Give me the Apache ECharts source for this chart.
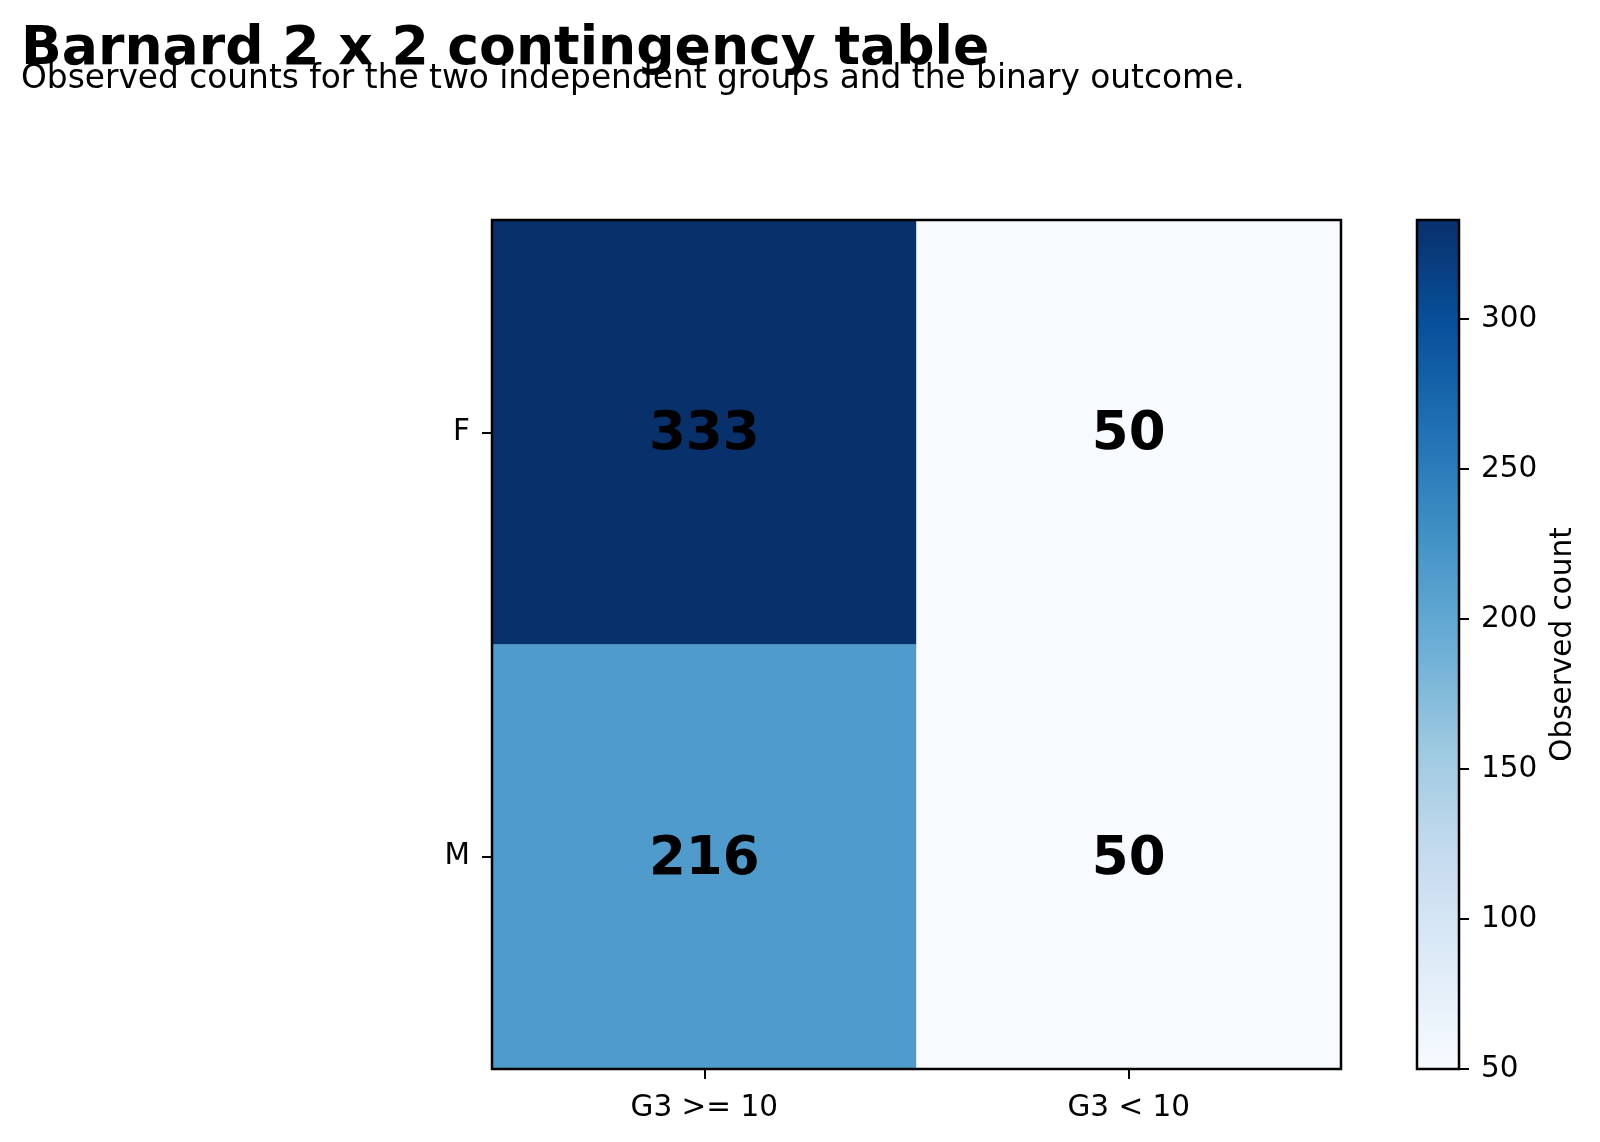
<!DOCTYPE html>
<html>
<head>
<meta charset="utf-8">
<script src="https://cdn.jsdelivr.net/npm/echarts@6/dist/echarts.min.js"></script>
<style>
html,body{margin:0;padding:0;background:#fff;}
#chart{width:1600px;height:1142px;}
</style>
</head>
<body>
<div id="chart"></div>
<script>
// ---- data ----
const groups = ['F', 'M'];                 // rows, top to bottom
const outcomes = ['G3 >= 10', 'G3 < 10'];  // columns
const countsF = [333, 50];
const countsM = [216, 50];
const countMin = 50;
const countMax = 333;
const colorbarInterval = 50;
const bluesStops = ['#f7fbff','#deebf7','#c6dbef','#9ecae1','#6baed6','#4292c6','#2171b5','#08519c','#08306b'];

const rows = { F: countsF, M: countsM };
const heatData = [];
groups.forEach(function (g, yi) {
  rows[g].forEach(function (v, xi) { heatData.push([xi, yi, v]); });
});

const FONT = 'DejaVu Sans';
const TICK = 29.5;
const chart = echarts.init(document.getElementById('chart'), null, { renderer: 'canvas' });

const gradStops = bluesStops.map(function (c, i) {
  return { offset: 1 - i / (bluesStops.length - 1), color: c };
});

chart.setOption({
  backgroundColor: '#ffffff',
  animation: false,
  title: [
    { text: 'Barnard 2 x 2 contingency table', left: 16, top: 18,
      textStyle: { fontFamily: FONT, fontSize: 53.6, fontWeight: 'bold', color: '#000' } },
    { text: 'Observed counts for the two independent groups and the binary outcome.', left: 16, top: 58,
      textStyle: { fontFamily: FONT, fontSize: 32.8, fontWeight: 'normal', color: '#000' } }
  ],
  visualMap: {
    show: false, type: 'continuous', min: countMin, max: countMax, seriesIndex: 0,
    inRange: { color: bluesStops }
  },
  grid: [
    { left: 492, top: 220, width: 849, height: 849, show: true, borderColor: '#000', borderWidth: 2.5, backgroundColor: 'rgba(0,0,0,0)', z: 10 },
    { left: 1417, top: 220, width: 42, height: 849, show: true, borderColor: '#000', borderWidth: 2.5, backgroundColor: 'rgba(0,0,0,0)', z: 10 }
  ],
  xAxis: [
    { type: 'category', gridIndex: 0, data: outcomes,
      axisLine: { show: false },
      axisTick: { show: true, alignWithLabel: true, length: 10, lineStyle: { color: '#000', width: 2 } },
      axisLabel: { fontFamily: FONT, fontSize: TICK, color: '#000', margin: 24 },
      splitLine: { show: false } },
    { type: 'category', gridIndex: 1, data: ['c'], show: false }
  ],
  yAxis: [
    { type: 'category', gridIndex: 0, data: groups, inverse: true,
      axisLine: { show: false },
      axisTick: { show: true, alignWithLabel: true, length: 10, lineStyle: { color: '#000', width: 2 } },
      axisLabel: { fontFamily: FONT, fontSize: TICK, color: '#000', margin: 22, padding: [7, 0, 0, 0] },
      splitLine: { show: false } },
    { type: 'value', gridIndex: 1, position: 'right', min: countMin, max: countMax, interval: colorbarInterval,
      axisLine: { show: false },
      axisTick: { show: true, length: 10, lineStyle: { color: '#000', width: 2 } },
      axisLabel: { fontFamily: FONT, fontSize: TICK, color: '#000', margin: 22, padding: [7, 0, 0, 0],
        showMaxLabel: false },
      splitLine: { show: false },
      name: 'Observed count', nameLocation: 'middle', nameRotate: 90, nameGap: 89,
      nameTextStyle: { fontFamily: FONT, fontSize: TICK, color: '#000' } }
  ],
  series: [
    { type: 'heatmap', xAxisIndex: 0, yAxisIndex: 0, data: heatData,
      label: { show: true, fontFamily: FONT, fontSize: 53, fontWeight: 'bold', color: '#000', offset: [0, 3],
        formatter: function (p) { return String(p.value[2]); } },
      itemStyle: { borderWidth: 0 },
      emphasis: { disabled: true } },
    { type: 'bar', xAxisIndex: 1, yAxisIndex: 1, stack: 'cb', data: [countMin], barWidth: '100%',
      itemStyle: { color: 'rgba(0,0,0,0)' }, silent: true, clip: true },
    { type: 'bar', xAxisIndex: 1, yAxisIndex: 1, stack: 'cb', data: [countMax - countMin], barWidth: '100%',
      itemStyle: { color: new echarts.graphic.LinearGradient(0, 0, 0, 1, gradStops) }, silent: true, clip: true }
  ]
});
</script>
</body>
</html>
